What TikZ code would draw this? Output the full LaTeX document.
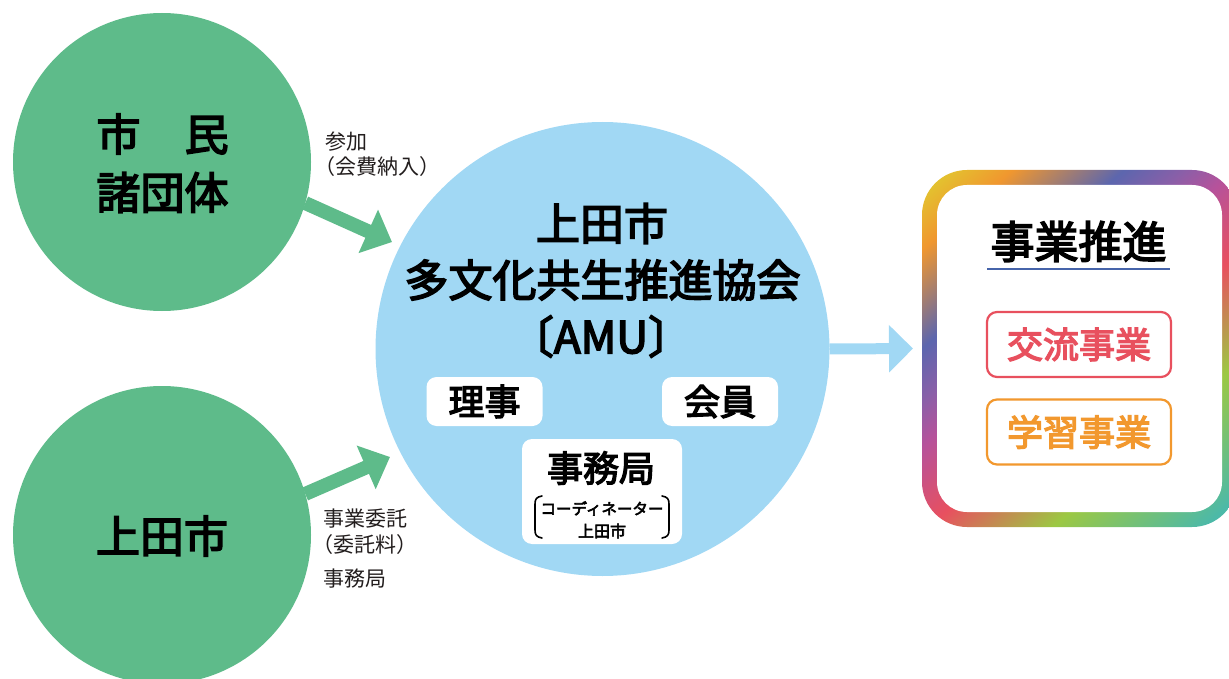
\documentclass[tikz,border=0pt]{standalone}
\usepackage{fontspec}
\newfontfamily\jp{Noto Sans CJK JP}
\newfontfamily\jpm[FakeBold=3.6]{Noto Sans CJK JP}
\XeTeXuseglyphmetrics=1
\usetikzlibrary{arrows.meta}
\definecolor{cgreen}{RGB}{94,187,138}
\definecolor{cblue}{RGB}{161,216,244}
\definecolor{cred}{RGB}{232,80,94}
\definecolor{corange}{RGB}{242,152,46}
\definecolor{cline}{RGB}{70,100,170}
\definecolor{ctext}{RGB}{35,30,30}
\definecolor{gy}{RGB}{226,198,47}
\definecolor{go}{RGB}{240,151,47}
\definecolor{gb}{RGB}{92,102,174}
\definecolor{gp}{RGB}{138,95,168}
\definecolor{gm}{RGB}{182,82,155}
\definecolor{gr}{RGB}{232,80,95}
\definecolor{gg}{RGB}{156,200,67}
\definecolor{gt}{RGB}{76,185,168}
\pgfdeclarehorizontalshading{rainbowring}{140bp}{color(0bp)=(gy); color(3bp)=(gy); color(12.6bp)=(go); color(28.1bp)=(gb); color(36.5bp)=(gp); color(43.5bp)=(gm); color(57.1bp)=(gr); color(74.2bp)=(gg); color(95.3bp)=(gt); color(100bp)=(gt)}
\begin{document}
\begin{tikzpicture}[x=1pt,y=-1pt,
  disc/.style={circle, inner sep=0pt, outer sep=0pt, draw=none},
  bigtext/.style={font=\jpm\fontsize{44}{50}\selectfont, text=black, inner sep=0pt},
  wbox/.style={fill=white, rounded corners=10pt, inner sep=0pt, font=\jpm\fontsize{36}{40}\selectfont, text=black},
  lab/.style={font=\jp\fontsize{21}{24}\selectfont, text=ctext, anchor=west, inner sep=0pt},
  garrow/.style={draw=cgreen, line width=14pt, -{Triangle[width=46pt,length=26pt]}},
  barrow/.style={draw=cblue, line width=11pt, -{Triangle[width=46pt,length=24pt]}},
  bizbox/.style={draw, line width=2.2pt, rounded corners=10pt, minimum width=184pt, minimum height=65pt, inner sep=0pt, font=\jpm\fontsize{36}{40}\selectfont},
  bracket/.style={draw=black, line width=1.6pt, line cap=round}]
\useasboundingbox (0,0) rectangle (1229,679);
\clip (0,0) rectangle (1229,679);

% circles
\node[disc, fill=cgreen, minimum size=298pt] (g1) at (162,162) {};
\node[disc, fill=cgreen, minimum size=298pt] (g2) at (162,535) {};
\node[disc, fill=cblue, minimum size=454pt] (amu) at (602.5,349) {};

% right box frame
\node[inner sep=0pt, outer sep=0pt, minimum width=315pt, minimum height=357pt] (biz) at (1079.5,348.5) {};
\begin{scope}
  \path[rounded corners=45pt, clip] (922,170) rectangle (1237,527);
  \begin{scope}[shift={(1079.5,348.5)}, rotate=-48.5, scale=4.751]
    \pgftext{\pgfuseshading{rainbowring}}
  \end{scope}
\end{scope}
\fill[white, rounded corners=30pt] (937,185) rectangle (1222,512);

% arrows
\coordinate (tip1) at (392,242);
\coordinate (tip2) at (390,457);
\draw[garrow] (g1.-16.6) -- (tip1);
\draw[garrow] (g2.16.1) -- (tip2);
\draw[barrow, shorten >=9pt] (amu.east) -- (biz.west);

% left circle texts
\node[bigtext] (t1a) at (162.5,134) {市　民};
\node[bigtext] (t1b) at (162.5,192.5) {諸団体};
\node[bigtext] (t2) at (162,536) {上田市};

% labels
\node[lab] (l1) at (325,141.5) {参加};
\node[lab] (l2) at (314,167) {（会費納入）};
\node[lab] (l3) at (323,519) {事業委託};
\node[lab] (l4) at (312,545) {（委託料）};
\node[lab] (l5) at (323,579) {事務局};

% central texts
\node[bigtext] (a1) at (602,223.5) {上田市};
\node[bigtext] (a2) at (602.5,280) {多文化共生推進協会};
\node[bigtext] (a3) at (601,336.5) {〔AMU〕};

\node[wbox, minimum width=116pt, minimum height=49pt] (riji) at (484.5,401.5) {理事};
\node[wbox, minimum width=116pt, minimum height=49pt] (kaiin) at (720,401.5) {会員};
\node[wbox, minimum width=160pt, minimum height=105pt] (jimu) at (602,491.5) {};
\node[bigtext, font=\jpm\fontsize{36}{40}\selectfont] (jt) at (601,468) {事務局};
\node[inner sep=0pt, font=\jpm\fontsize{15.5}{18}\selectfont] (jc) at (602,508.5) {コーディネーター};
\node[inner sep=0pt, font=\jpm\fontsize{16}{18}\selectfont] (jd) at (602,531) {上田市};
\draw[bracket] (542,496) .. controls (536.5,497) and (535,499) .. (535,504) -- (535,530) .. controls (535,535) and (536.5,537) .. (542,538);
\draw[bracket] (662,496) .. controls (667.5,497) and (669,499) .. (669,504) -- (669,530) .. controls (669,535) and (667.5,537) .. (662,538);

% right box contents
\node[bigtext] (bt) at (1078.5,241.5) {事業推進};
\draw[cline, line width=1.3pt] (987,269) -- (1170,269);
\node[bizbox, draw=cred, text=cred] (koryu) at (1079,344.5) {交流事業};
\node[bizbox, draw=corange, text=corange] (gakushu) at (1079,432) {学習事業};
\end{tikzpicture}
\end{document}
